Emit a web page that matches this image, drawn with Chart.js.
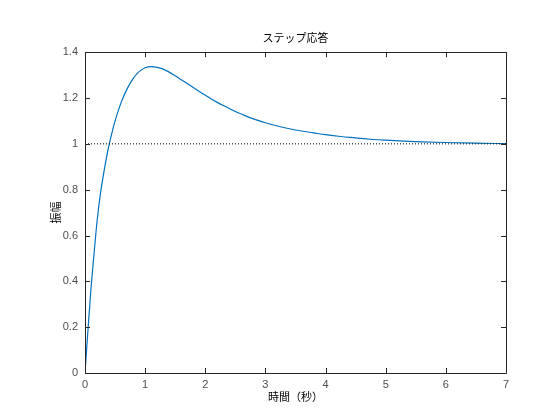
<!DOCTYPE html>
<html>
<head>
<meta charset="utf-8">
<script src="https://cdn.jsdelivr.net/npm/chart.js@4/dist/chart.umd.min.js"></script>
<style>
  html, body { margin: 0; padding: 0; background: #fff; }
</style>
</head>
<body>
<canvas id="step-chart" width="560" height="420"></canvas>
<script>
// step response
var times = [0, 0.05, 0.1, 0.15, 0.2, 0.25, 0.3, 0.35, 0.4, 0.45, 0.5, 0.6, 0.7, 0.8, 0.9, 1.0, 1.1, 1.2, 1.3, 1.4, 1.5, 1.6, 1.7, 1.8, 1.9, 2.0, 2.1, 2.2, 2.3, 2.4, 2.5, 2.6, 2.7, 2.8, 2.9, 3.0, 3.2, 3.4, 3.6, 3.8, 4.0, 4.25, 4.5, 4.75, 5.0, 5.3, 5.6, 6.0, 6.5, 7.0];
var amplitude = [0, 0.19, 0.37, 0.52, 0.66, 0.77, 0.855, 0.93, 0.995, 1.05, 1.1, 1.18, 1.24, 1.285, 1.315, 1.332, 1.337, 1.334, 1.326, 1.313, 1.297, 1.28, 1.263, 1.246, 1.229, 1.212, 1.196, 1.181, 1.167, 1.154, 1.141, 1.13, 1.119, 1.109, 1.1, 1.092, 1.078, 1.066, 1.056, 1.048, 1.04, 1.032, 1.026, 1.02, 1.016, 1.012, 1.009, 1.006, 1.003, 1.001];
var finalValue = 1;
var xTicks = [0, 1, 2, 3, 4, 5, 6, 7];
var yTicks = [0, 0.2, 0.4, 0.6, 0.8, 1, 1.2, 1.4];

var axisColor = '#262626';
var jp = "'Noto Sans CJK JP', sans-serif";
var num = "'Liberation Sans', Arial, sans-serif";

var curve = times.map(function (t, i) { return { x: t, y: amplitude[i] }; });
var steady = [{ x: xTicks[0], y: finalValue }, { x: xTicks[xTicks.length - 1], y: finalValue }];

// box round the axes with inward ticks, like matlab
var boxPlugin = {
    id: 'box',
    afterDatasetsDraw: function (chart) {
        var ctx = chart.ctx, a = chart.chartArea;
        var xs = chart.scales.x, ys = chart.scales.y;
        var len = 5;
        ctx.save();
        ctx.strokeStyle = axisColor;
        ctx.lineWidth = 1;
        ctx.beginPath();
        ctx.rect(Math.round(a.left) + 0.5, Math.round(a.top) + 0.5, Math.round(a.right - a.left), Math.round(a.bottom - a.top));
        xTicks.forEach(function (v) {
            var px = Math.round(xs.getPixelForValue(v)) + 0.5;
            ctx.moveTo(px, a.bottom); ctx.lineTo(px, a.bottom - len);
            ctx.moveTo(px, a.top); ctx.lineTo(px, a.top + len);
        });
        yTicks.forEach(function (v) {
            var py = Math.round(ys.getPixelForValue(v)) + 0.5;
            ctx.moveTo(a.left, py); ctx.lineTo(a.left + len, py);
            ctx.moveTo(a.right, py); ctx.lineTo(a.right - len, py);
        });
        ctx.stroke();
        ctx.restore();
    }
};

new Chart(document.getElementById('step-chart').getContext('2d'), {
    type: 'line',
    data: {
        datasets: [{
            data: steady,
            borderColor: '#000000',
            borderWidth: 1,
            borderDash: [1, 2],
            pointRadius: 0
        }, {
            data: curve,
            borderColor: '#0072BD',
            borderWidth: 1.2,
            pointRadius: 0,
            cubicInterpolationMode: 'monotone'
        }]
    },
    options: {
        responsive: false,
        animation: false,
        layout: { padding: { left: 0, right: 54, top: 0, bottom: 0 } },
        plugins: {
            legend: { display: false },
            tooltip: { enabled: false },
            title: {
                display: true,
                text: 'ステップ応答',
                fullSize: false,
                color: '#000000',
                font: { family: jp, size: 11, weight: 'normal' },
                padding: { top: 31, bottom: 8 }
            }
        },
        scales: {
            x: {
                type: 'linear',
                min: 0,
                max: 7,
                afterBuildTicks: function (s) { s.ticks = xTicks.map(function (v) { return { value: v }; }); },
                afterFit: function (s) { s.height = 47; },
                grid: { display: false, drawTicks: false },
                border: { display: false },
                ticks: { color: '#4d4d4d', padding: 5, font: { family: num, size: 11 } },
                title: {
                    display: true,
                    text: '時間（秒）',
                    color: '#000000',
                    font: { family: jp, size: 11 },
                    padding: { top: 0, bottom: 17 }
                }
            },
            y: {
                type: 'linear',
                min: 0,
                max: 1.4,
                afterBuildTicks: function (s) { s.ticks = yTicks.map(function (v) { return { value: v }; }); },
                afterFit: function (s) { s.width = 85; },
                grid: { display: false, drawTicks: false },
                border: { display: false },
                ticks: {
                    color: '#4d4d4d', padding: 7, font: { family: num, size: 11 },
                    callback: function (v) { return String(Math.round(v * 10) / 10); }
                },
                title: {
                    display: true,
                    text: '振幅',
                    color: '#000000',
                    font: { family: jp, size: 11 },
                    padding: { top: 49, bottom: 0 }
                }
            }
        }
    },
    plugins: [boxPlugin]
});
</script>
</body>
</html>
